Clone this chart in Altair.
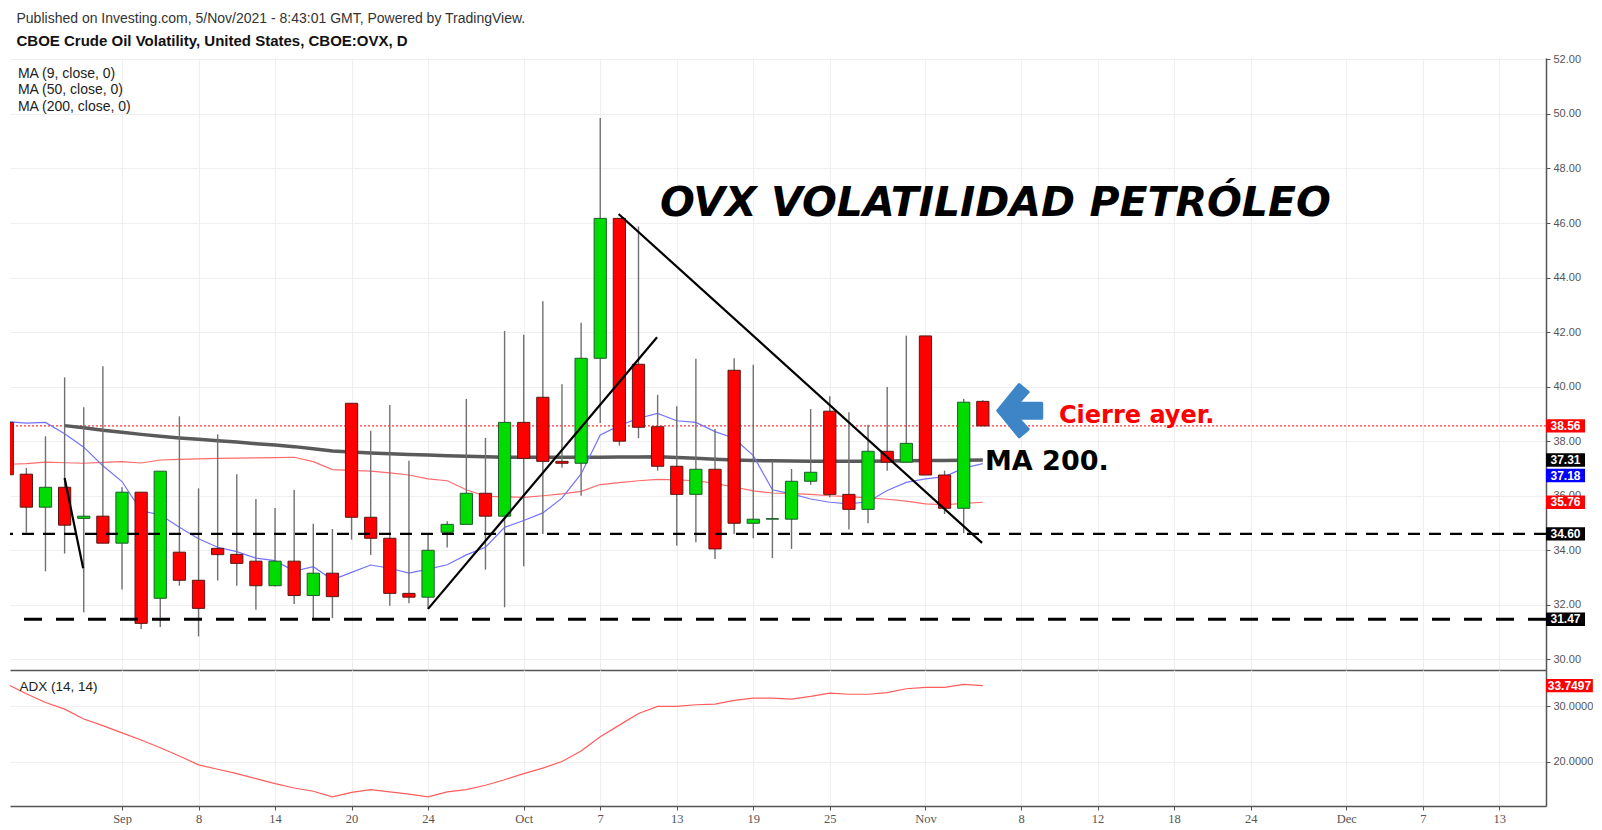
import altair as alt
import pandas as pd

# ------------------------------------------------------------------ data
bar_idx = list(range(-6, 46))          # trading-day index, 0 = 1 Sep 2021
open_ = [38.69, 36.79, 35.58, 36.31, 35.17, 35.25, 34.26, 36.13, 32.24, 33.93,
         32.90, 34.07, 33.85, 33.60, 32.70, 33.60, 32.34, 33.16, 39.39, 35.21,
         34.44, 32.42, 32.28, 34.66, 34.95, 36.09, 35.25, 38.69, 39.61, 37.26,
         37.19, 41.04, 46.17, 40.82, 38.53, 37.08, 36.05, 36.97, 40.60, 34.99,
         35.14, 35.14, 36.53, 39.10, 36.05, 35.50, 37.63, 37.23, 41.86, 36.76,
         35.54, 39.46]
high_ = [38.90, 37.02, 38.18, 40.34, 39.24, 40.75, 36.31, 36.13, 36.90, 38.91,
         36.27, 38.25, 36.79, 35.88, 35.55, 36.21, 34.97, 34.78, 39.39, 38.38,
         39.33, 37.28, 34.57, 35.06, 39.55, 38.12, 42.04, 41.90, 43.13, 40.09,
         42.34, 49.85, 46.17, 45.87, 39.70, 39.28, 41.02, 38.45, 41.04, 40.80,
         37.29, 36.98, 39.18, 39.65, 39.06, 38.60, 39.99, 41.87, 41.86, 36.92,
         39.55, 39.50]
low_ = [36.50, 34.65, 33.23, 33.88, 31.73, 34.26, 32.56, 31.11, 31.19, 32.70,
        30.84, 32.89, 32.70, 31.82, 32.67, 32.03, 31.45, 31.51, 34.39, 33.83,
        31.97, 32.06, 31.85, 34.10, 34.95, 33.29, 31.91, 33.41, 34.60, 37.03,
        36.00, 38.67, 37.84, 38.11, 36.92, 34.17, 34.29, 33.68, 34.60, 34.44,
        33.71, 34.05, 36.40, 35.94, 34.76, 34.99, 36.92, 37.23, 36.76, 35.33,
        34.63, 38.56]
close_ = [36.77, 35.58, 36.31, 34.92, 35.25, 34.26, 36.13, 31.32, 36.90, 32.90,
          31.87, 33.84, 33.52, 32.70, 33.60, 32.34, 33.16, 32.30, 35.21, 34.44,
          32.42, 32.28, 34.00, 34.95, 36.09, 35.25, 38.69, 37.37, 37.26, 37.19,
          41.04, 46.17, 38.00, 38.51, 37.08, 36.05, 36.97, 34.05, 34.99, 35.14,
          35.16, 36.53, 36.86, 36.05, 35.50, 37.63, 37.23, 37.92, 36.76, 35.54,
          39.43, 38.56]
ma9 = [38.72, 38.66, 38.69, 38.27, 37.78, 37.10, 36.52, 35.45, 35.30, 34.84,
       34.42, 34.11, 33.95, 33.71, 33.62, 33.24, 33.40, 32.92, 33.19, 33.46,
       33.34, 33.16, 33.31, 33.47, 33.83, 34.11, 34.84, 35.09, 35.37, 35.91,
       36.80, 38.23, 38.57, 38.84, 39.02, 38.75, 38.69, 38.35, 38.11, 37.47,
       36.22, 36.07, 35.88, 35.76, 35.70, 35.78, 36.19, 36.49, 36.62, 36.70,
       37.01, 37.18]
ma50 = [37.15, 37.18, 37.23, 37.21, 37.19, 37.22, 37.25, 37.20, 37.31, 37.33,
        37.35, 37.37, 37.38, 37.39, 37.40, 37.41, 37.25, 36.96, 36.93, 36.90,
        36.84, 36.76, 36.62, 36.55, 36.22, 35.98, 35.96, 35.94, 36.00, 36.07,
        36.16, 36.41, 36.48, 36.55, 36.60, 36.58, 36.55, 36.45, 36.32, 36.18,
        36.10, 36.08, 36.05, 36.00, 35.97, 35.92, 35.87, 35.80, 35.70, 35.67,
        35.72, 35.76]
ma200_idx = list(range(-3, 46))
ma200 = [38.57, 38.49, 38.40, 38.33, 38.25, 38.18, 38.12, 38.07, 38.02, 37.97,
         37.91, 37.86, 37.80, 37.72, 37.64, 37.60, 37.57, 37.54, 37.51, 37.49,
         37.47, 37.45, 37.43, 37.41, 37.41, 37.41, 37.41, 37.41, 37.41, 37.42,
         37.42, 37.43, 37.40, 37.37, 37.34, 37.31, 37.29, 37.28, 37.27, 37.26,
         37.26, 37.26, 37.26, 37.27, 37.28, 37.29, 37.29, 37.30, 37.31]
adx = [34.0, 32.3, 30.7, 29.5, 27.7, 26.5, 25.2, 23.9, 22.5, 21.0,
       19.4, 18.6, 17.8, 16.9, 16.0, 15.2, 14.6, 13.6, 14.4, 14.9,
       14.5, 14.1, 13.6, 14.5, 14.9, 15.7, 16.7, 17.8, 18.8, 20.0,
       21.9, 24.5, 26.6, 28.7, 30.0, 30.0, 30.3, 30.4, 31.1, 31.5,
       31.5, 31.3, 31.8, 32.4, 32.2, 32.2, 32.5, 33.2, 33.45, 33.45,
       34.0, 33.75]

tick_idx = [0, 4, 8, 12, 16, 21, 25, 29, 33, 37, 42, 47, 51, 55, 59, 64, 68, 72]
tick_lab = ["Sep", "8", "14", "20", "24", "Oct", "7", "13", "19", "25",
            "Nov", "8", "12", "18", "24", "Dec", "7", "13"]
price_ticks = [30, 32, 34, 36, 38, 40, 42, 44, 46, 48, 50, 52]
adx_ticks = [20, 30]

support_levels = [34.60, 31.47]
last_close = 38.56

# hand-drawn trend lines (index, price)
tl_x1 = [-3.0, 16.0, 25.96]
tl_y1 = [36.65, 31.85, 46.33]
tl_x2 = [-2.03, 27.97, 44.96]
tl_y2 = [33.34, 41.81, 34.27]

# right-hand price tags
tag_text = ["38.56", "37.31", "37.18", "35.76", "34.60", "31.47"]
tag_pos = [38.56, 37.31, 36.74, 35.76, 34.60, 31.47]
tag_col = ["#ff0000", "#000000", "#0000ff", "#ff0000", "#000000", "#000000"]

legend_text = ["MA (9, close, 0)", "MA (50, close, 0)", "MA (200, close, 0)"]
legend_y = [51.45, 50.86, 50.26]

# ------------------------------------------------------------------ layout constants
X_MIN, X_MAX = -5.855, 74.44
W = 1536
H_PRICE = 612
H_ADX = 136
TAG_X1, TAG_X2 = 74.44, 76.48

xs = alt.Scale(domain=[X_MIN, X_MAX], nice=False, zero=False)
ys = alt.Scale(domain=[29.61, 52.05], nice=False, zero=False)
ya = alt.Scale(domain=[11.93, 36.6], nice=False, zero=False)

lab_expr = "[" + ",".join("'%s'" % t for t in tick_lab) + "][indexof([" + \
    ",".join(str(t) for t in tick_idx) + "], datum.value)]"

x_ax_price = alt.Axis(values=tick_idx, labels=False, ticks=False, grid=True,
                      domain=True, domainColor="#555", domainWidth=1.5, title=None)
x_ax_adx = alt.Axis(values=tick_idx, labelExpr=lab_expr, grid=True, tickSize=4,
                    labelPadding=2, labelFontSize=12.5, labelFont="Liberation Sans Narrow",
                    labelColor="#555", domainColor="#555", domainWidth=1.5,
                    tickColor="#555", title=None, labelFlush=False)
y_ax_price = alt.Axis(orient="right", values=price_ticks, format=".2f", grid=True,
                      tickSize=4, labelPadding=3, labelFontSize=11,
                      labelFont="Liberation Sans", labelColor="#555",
                      domainColor="#555", domainWidth=1.5, tickColor="#555", title=None)
y_ax_adx = alt.Axis(orient="right", values=adx_ticks, format=".4f", grid=True,
                    tickSize=4, labelPadding=3, labelFontSize=11,
                    labelFont="Liberation Sans", labelColor="#555",
                    domainColor="#555", domainWidth=1.5, tickColor="#555", title=None)


def PX(f):
    return alt.X(f, type="quantitative", scale=xs, axis=x_ax_price)


def PY(f):
    return alt.Y(f, type="quantitative", scale=ys, axis=y_ax_price)


def AX(f):
    return alt.X(f, type="quantitative", scale=xs, axis=x_ax_adx)


def AY(f):
    return alt.Y(f, type="quantitative", scale=ya, axis=y_ax_adx)


# ------------------------------------------------------------------ frames
candles = pd.DataFrame({"i": bar_idx, "o": open_, "h": high_, "l": low_, "c": close_})
candles["dir"] = ["up" if c >= o else "down" for o, c in zip(open_, close_)]
candles["x1"] = candles["i"] - 0.32
candles["x2"] = candles["i"] + 0.32
ma_df = pd.DataFrame({"i": bar_idx, "ma9": ma9, "ma50": ma50})
ma200_df = pd.DataFrame({"i": ma200_idx, "ma200": ma200})
adx_df = pd.DataFrame({"i": bar_idx, "adx": adx})
tl_df = pd.DataFrame({"x1": tl_x1, "y1": tl_y1, "x2": tl_x2, "y2": tl_y2})
tag_df = pd.DataFrame({"t": tag_text, "p": tag_pos, "col": tag_col})
tag_df["p1"] = tag_df["p"] - 0.245
tag_df["p2"] = tag_df["p"] + 0.245
tag_df["bx1"] = TAG_X1
tag_df["bx2"] = TAG_X2
tag_df["bxm"] = (TAG_X1 + TAG_X2) / 2
leg_df = pd.DataFrame({"t": legend_text, "y": legend_y, "x": [-5.44] * 3})

base_c = alt.Chart(candles)

layers = []
# last close dotted line
layers.append(alt.Chart(pd.DataFrame({"p": [last_close]})).mark_rule(
    color="#ff0000", strokeDash=[2, 2], strokeWidth=1).encode(y=PY("p")))
# moving averages
layers.append(alt.Chart(ma_df).mark_line(color="#ff6b6b", strokeWidth=1.2, clip=True)
              .encode(x=PX("i"), y=PY("ma50")))
layers.append(alt.Chart(ma200_df).mark_line(color="#5a5a5a", strokeWidth=3.5, clip=True)
              .encode(x=PX("i"), y=PY("ma200")))
layers.append(alt.Chart(ma_df).mark_line(color="#7373ff", strokeWidth=1.2, clip=True)
              .encode(x=PX("i"), y=PY("ma9")))
# candles
layers.append(base_c.mark_rule(color="#707070", strokeWidth=1.4, clip=True)
              .encode(x=PX("i"), y=PY("l"), y2="h"))
layers.append(base_c.mark_rect(strokeWidth=1, clip=True).encode(
    x=PX("x1"), x2="x2", y=PY("o"), y2="c",
    fill=alt.Fill("dir:N", scale=alt.Scale(domain=["up", "down"], range=["#00dc00", "#ff0000"]), legend=None),
    stroke=alt.Stroke("dir:N", scale=alt.Scale(domain=["up", "down"], range=["#1d5c2c", "#5c1616"]), legend=None)))
# support lines
layers.append(alt.Chart(pd.DataFrame({"p": [support_levels[0]]})).mark_rule(
    color="black", strokeDash=[12, 9], strokeWidth=2.3).encode(y=PY("p")))
layers.append(alt.Chart(pd.DataFrame({"p": [support_levels[1]]})).mark_rule(
    color="black", strokeDash=[18, 14], strokeWidth=3).encode(y=PY("p")))
# trend lines
layers.append(alt.Chart(tl_df).mark_rule(color="black", strokeWidth=2.2)
              .encode(x=PX("x1"), y=PY("y1"), x2="x2", y2="y2"))
# legend texts
layers.append(alt.Chart(leg_df).mark_text(align="left", baseline="middle", fontSize=14,
                                          font="Liberation Sans", color="#222")
              .encode(x=PX("x"), y=PY("y"), text="t:N"))
# annotations
layers.append(alt.Chart(pd.DataFrame({"x": [28.12], "y": [46.70], "t": ["OVX VOLATILIDAD PETRÓLEO"]}))
              .mark_text(align="left", baseline="middle", fontSize=41, font="DejaVu Sans",
                         fontWeight="bold", fontStyle="italic", color="black")
              .encode(x=PX("x"), y=PY("y"), text="t:N"))
layers.append(alt.Chart(pd.DataFrame({"x": [45.11], "y": [37.24], "t": ["MA 200."]}))
              .mark_text(align="left", baseline="middle", fontSize=27, font="DejaVu Sans",
                         fontWeight="bold", color="black")
              .encode(x=PX("x"), y=PY("y"), text="t:N"))
layers.append(alt.Chart(pd.DataFrame({"x": [48.98], "y": [38.93], "t": ["Cierre ayer."]}))
              .mark_text(align="left", baseline="middle", fontSize=24, font="DejaVu Sans",
                         fontWeight="bold", color="#ff0000")
              .encode(x=PX("x"), y=PY("y"), text="t:N"))
arrow_path = ("M -0.733 0 L -0.02 -0.87 L 0.28 -0.62 L -0.06 -0.25 L 0.733 -0.25 "
              "L 0.733 0.25 L -0.06 0.25 L 0.28 0.62 L -0.02 0.87 Z")
layers.append(alt.Chart(pd.DataFrame({"x": [46.93], "y": [39.12]}))
              .mark_point(shape=arrow_path, size=3600, filled=True, color="#3d85c6",
                          stroke="#3d85c6", strokeWidth=3, strokeJoin="round", opacity=1)
              .encode(x=PX("x"), y=PY("y")))
# right-hand tags
layers.append(alt.Chart(tag_df).mark_rect().encode(
    x=PX("bx1"), x2="bx2", y=PY("p1"), y2="p2",
    fill=alt.Fill("col:N", scale=None)))
layers.append(alt.Chart(tag_df).mark_text(fontSize=12, font="Liberation Sans", fontWeight="bold",
                                          color="white", baseline="middle")
              .encode(x=PX("bxm"), y=PY("p"), text="t:N"))

price = alt.layer(*layers).properties(width=W, height=H_PRICE)

# ADX panel
adx_layers = [
    alt.Chart(adx_df).mark_line(color="#ff5c5c", strokeWidth=1.2, clip=True)
    .encode(x=AX("i"), y=AY("adx")),
    alt.Chart(pd.DataFrame({"x": [-5.36], "y": [33.6], "t": ["ADX (14, 14)"]}))
    .mark_text(align="left", baseline="middle", fontSize=13.5, font="Liberation Sans", color="#222")
    .encode(x=AX("x"), y=AY("y"), text="t:N"),
    alt.Chart(pd.DataFrame({"b1": [TAG_X1], "b2": [TAG_X1 + 2.45], "p1": [33.75 - 1.2], "p2": [33.75 + 1.2]}))
    .mark_rect(color="#ff0000").encode(x=AX("b1"), x2="b2", y=AY("p1"), y2="p2"),
    alt.Chart(pd.DataFrame({"x": [TAG_X1 + 1.225], "y": [33.75], "t": ["33.7497"]}))
    .mark_text(fontSize=12, font="Liberation Sans", fontWeight="bold", color="white", baseline="middle")
    .encode(x=AX("x"), y=AY("y"), text="t:N"),
]
adx_panel = alt.layer(*adx_layers).properties(width=W, height=H_ADX)

chart = alt.vconcat(
    price, adx_panel, spacing=0, bounds="flush",
    title=alt.TitleParams(
        text="Published on Investing.com, 5/Nov/2021 - 8:43:01 GMT, Powered by TradingView.",
        subtitle="CBOE Crude Oil Volatility, United States, CBOE:OVX, D",
        anchor="start", dx=8, fontSize=14, fontWeight="normal", font="Liberation Sans",
        color="#333", subtitleFontSize=15, subtitleFontWeight="bold",
        subtitleFont="Liberation Sans", subtitleColor="#111", subtitlePadding=8, offset=4),
).properties(padding={"left": 0, "top": 4, "right": 0, "bottom": 0}).configure_view(
    stroke=None
).configure_axis(gridColor="#efefef", gridWidth=1)

chart.save("out.html", embed_options={"renderer": "svg", "actions": False})
